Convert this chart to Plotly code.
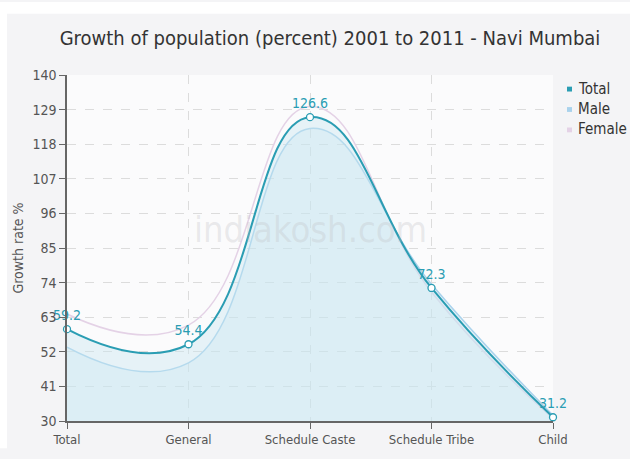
import plotly.graph_objects as go

# Growth of population (percent) 2001-2011, Navi Mumbai
categories = ["Total", "General", "Schedule Caste", "Schedule Tribe", "Child"]
total = [59.2, 54.4, 126.6, 72.3, 31.2]
male = [53.5, 48.5, 123.0, 73.5, 31.8]
female = [64.0, 60.5, 130.0, 71.0, 30.8]
y_ticks = [30, 41, 52, 63, 74, 85, 96, 107, 118, 129, 140]
legend_names = ["Total", "Male", "Female"]

TEAL = "#2a9db3"
MALE_C = "#a9d2ec"
FEMALE_C = "#e4d2e6"
FONT = "Liberation Sans Narrow, DejaVu Sans Condensed, DejaVu Sans, sans-serif"

W, H = 630, 459
L, R, T, B = 67, 77, 75, 28
pw, ph = W - L - R, H - T - B


def px_x(x):
    return (x - L) / pw


def px_y(y):
    return (H - B - y) / ph


fig = go.Figure()

fig.add_trace(go.Scatter(
    x=categories, y=female, mode="lines",
    line=dict(color=FEMALE_C, width=1.5, shape="spline", smoothing=1.3),
    showlegend=False, hoverinfo="skip"))
fig.add_trace(go.Scatter(
    x=categories, y=male, mode="lines",
    line=dict(color=MALE_C, width=1.5, shape="spline", smoothing=1.3),
    fill="tozeroy", fillcolor="rgba(200,228,240,0.35)", showlegend=False, hoverinfo="skip"))
fig.add_trace(go.Scatter(
    x=categories, y=total, mode="lines+markers+text",
    line=dict(color=TEAL, width=2, shape="spline", smoothing=1.3),
    marker=dict(size=7, color="white", line=dict(color=TEAL, width=1.3)),
    fill="tozeroy", fillcolor="rgba(200,230,240,0.4)",
    text=[f"{v:.1f}" for v in total], textposition="top center",
    textfont=dict(family=FONT, size=14, color=TEAL),
    cliponaxis=False, showlegend=False))

# hand-placed legend: small squares with labels to the right of the plot
legend_colors = [TEAL, MALE_C, FEMALE_C]
shapes = [
    dict(type="rect", xref="paper", yref="paper", x0=px_x(0), x1=px_x(W), y0=px_y(0), y1=px_y(12),
         fillcolor="white", line=dict(width=0), layer="below"),
    dict(type="rect", xref="paper", yref="paper", x0=px_x(0), x1=px_x(7), y0=px_y(H), y1=px_y(0),
         fillcolor="white", line=dict(width=0), layer="below"),
]
annotations = [
    dict(text="indiakosh.com", xref="paper", yref="paper", x=px_x(310), y=px_y(234),
         showarrow=False, font=dict(family=FONT, size=36, color="rgba(190,190,195,0.3)")),
]
for i, (name, col) in enumerate(zip(legend_names, legend_colors)):
    cy = 89 + i * 21
    shapes.append(dict(type="rect", xref="paper", yref="paper",
                       x0=px_x(567), x1=px_x(572), y0=px_y(cy + 3), y1=px_y(cy - 2),
                       fillcolor=col, line=dict(width=0)))
    annotations.append(dict(text=name, xref="paper", yref="paper", x=px_x(576), y=px_y(cy),
                            xanchor="left", yanchor="middle", showarrow=False,
                            font=dict(family=FONT, size=15, color="#333")))

fig.update_layout(
    width=W, height=H,
    margin=dict(l=L, r=R, t=T, b=B),
    paper_bgcolor="#f4f4f6",
    plot_bgcolor="#fbfbfc",
    font=dict(family=FONT, color="#444"),
    showlegend=False,
    title=dict(text="Growth of population (percent) 2001 to 2011 - Navi Mumbai",
               x=330 / W, xref="container", xanchor="center", y=1 - 38 / H, yanchor="middle",
               font=dict(family=FONT, size=20, color="#333")),
    xaxis=dict(type="category", range=[0, 4], showgrid=True, gridcolor="#dcdcdc", griddash="dash",
               showline=True, linecolor="#666", linewidth=1.5, ticks="outside", ticklen=6,
               tickcolor="#666", tickfont=dict(family=FONT, size=13, color="#555"), zeroline=False),
    yaxis=dict(range=[30, 140], tickvals=y_ticks, showgrid=True, gridcolor="#dcdcdc", griddash="dash",
               showline=True, linecolor="#666", linewidth=1.5, ticks="outside", ticklen=6,
               tickcolor="#666", tickfont=dict(family=FONT, size=14, color="#555"), zeroline=False,
               title=dict(text="Growth rate %", font=dict(family=FONT, size=14, color="#555"), standoff=6)),
    shapes=shapes,
    annotations=annotations,
)

fig.write_html("out.html", config={"displayModeBar": False})
